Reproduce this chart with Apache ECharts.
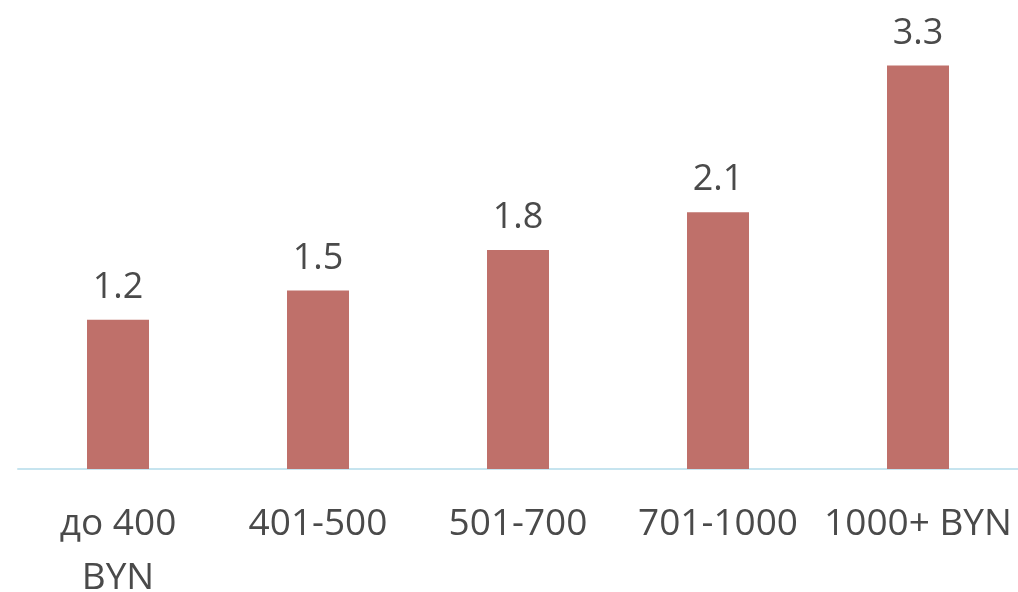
<!DOCTYPE html>
<html><head><meta charset="utf-8">
<script src="https://cdn.jsdelivr.net/npm/echarts@6/dist/echarts.min.js"></script>
<style>html,body{margin:0;padding:0;background:#fff}#c{width:1018px;height:592px}</style>
</head><body><div id="c"></div>
<script>
const categories = ['до 400\nBYN', '401-500', '501-700', '701-1000', '1000+ BYN'];
const values = [1.22, 1.46, 1.79, 2.1, 3.3];

const chart = echarts.init(document.getElementById('c'));
chart.setOption({
  animation: false,
  grid: { left: 18, right: 0, top: 41, bottom: 123, containLabel: false, outerBoundsMode: 'none' },
  xAxis: {
    type: 'category',
    data: categories,
    axisLine: { lineStyle: { color: '#c6e4ef', width: 2 } },
    axisTick: { show: false },
    axisLabel: {
      interval: 0,
      color: '#4a4a4a',
      fontFamily: 'Open Sans',
      fontSize: 37,
      lineHeight: 54,
      margin: 28
    }
  },
  yAxis: { type: 'value', min: 0, max: 3.5, show: false, splitLine: { show: false } },
  series: [{
    type: 'bar',
    data: values,
    barWidth: 62,
    itemStyle: { color: '#bf706a' },
    label: {
      show: true,
      position: 'top',
      distance: 14,
      color: '#4a4a4a',
      fontFamily: 'Open Sans',
      fontSize: 36,
      formatter: p => p.value.toFixed(1)
    }
  }]
});
</script></body></html>
